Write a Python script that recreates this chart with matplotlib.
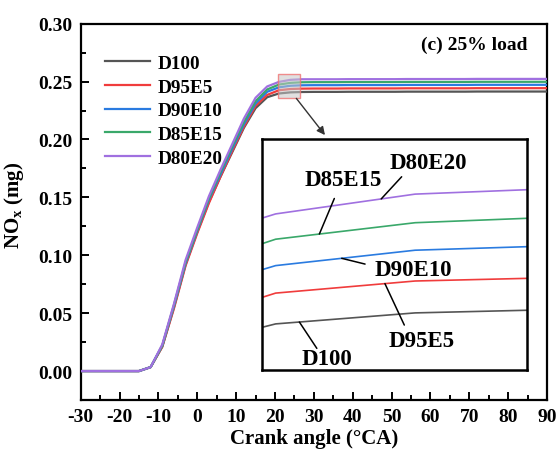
import matplotlib
matplotlib.use("Agg")
import numpy as np
import matplotlib.pyplot as plt
from matplotlib.ticker import MultipleLocator, FormatStrFormatter
from matplotlib.patches import Rectangle

plt.rcParams['font.family'] = ['Liberation Serif', 'DejaVu Serif']
plt.rcParams['font.weight'] = 'bold'
plt.rcParams['axes.unicode_minus'] = False
plt.rcParams['mathtext.fontset'] = 'custom'
plt.rcParams['mathtext.rm'] = 'Liberation Serif'
plt.rcParams['mathtext.bf'] = 'Liberation Serif:bold'

# Crank angle (°CA), sampled every 3 degrees
crank_angle = list(range(-30, 91, 3))

# Cumulative NOx (mg) per fuel blend
d100 = [0, 0, 0, 0, 0, 0, 0.0034, 0.021, 0.055, 0.092, 0.120, 0.146, 0.168,
        0.189, 0.210, 0.227, 0.2365, 0.2397, 0.2407, 0.2410,
        0.2411, 0.2411, 0.2411, 0.2412, 0.2412, 0.2412, 0.2412, 0.2412, 0.2413,
        0.2413, 0.2413, 0.2413, 0.2413, 0.2413, 0.2414, 0.2414, 0.2414, 0.2414,
        0.2414, 0.2414, 0.2414]
d95e5 = [0, 0, 0, 0, 0, 0, 0.0034, 0.021, 0.054, 0.091, 0.119, 0.145, 0.168,
         0.190, 0.211, 0.229, 0.2385, 0.2425, 0.2436, 0.2439,
         0.2440, 0.2440, 0.2440, 0.2441, 0.2441, 0.2441, 0.2441, 0.2441, 0.2442,
         0.2442, 0.2442, 0.2442, 0.2442, 0.2442, 0.2443, 0.2443, 0.2443, 0.2443,
         0.2443, 0.2443, 0.2443]
d90e10 = [0, 0, 0, 0, 0, 0, 0.0034, 0.022, 0.056, 0.093, 0.121, 0.148, 0.170,
          0.192, 0.213, 0.231, 0.2412, 0.2450, 0.2464, 0.2468,
          0.2469, 0.2469, 0.2469, 0.2470, 0.2470, 0.2470, 0.2470, 0.2470, 0.2471,
          0.2471, 0.2471, 0.2471, 0.2471, 0.2471, 0.2472, 0.2472, 0.2472, 0.2472,
          0.2472, 0.2472, 0.2472]
d85e15 = [0, 0, 0, 0, 0, 0, 0.0034, 0.022, 0.057, 0.094, 0.122, 0.149, 0.172,
          0.194, 0.215, 0.233, 0.2432, 0.2474, 0.2489, 0.2494,
          0.2495, 0.2495, 0.2495, 0.2496, 0.2496, 0.2496, 0.2496, 0.2496, 0.2497,
          0.2497, 0.2497, 0.2497, 0.2497, 0.2497, 0.2498, 0.2498, 0.2498, 0.2498,
          0.2498, 0.2498, 0.2498]
d80e20 = [0, 0, 0, 0, 0, 0, 0.0034, 0.023, 0.058, 0.096, 0.124, 0.151, 0.174,
          0.196, 0.218, 0.236, 0.2458, 0.2497, 0.2515, 0.2520,
          0.2520, 0.2520, 0.2520, 0.2521, 0.2521, 0.2521, 0.2521, 0.2521, 0.2522,
          0.2522, 0.2522, 0.2522, 0.2522, 0.2522, 0.2523, 0.2523, 0.2523, 0.2523,
          0.2523, 0.2523, 0.2523]

fuels = ['D100', 'D95E5', 'D90E10', 'D85E15', 'D80E20']
series = [d100, d95e5, d90e10, d85e15, d80e20]
colors = ['#555555', '#f03c3c', '#2a7be0', '#3aa86a', '#a070e0']

panel_title = '(c) 25% load'
x_ticks = list(range(-30, 91, 10))
y_ticks = [0.00, 0.05, 0.10, 0.15, 0.20, 0.25, 0.30]

# magnified window
zoom_x = (20.7, 26.4)
zoom_y = (0.2355, 0.2565)

fig = plt.figure(figsize=(5.58, 4.52), dpi=100)
ax = fig.add_axes([0.1446, 0.1128, 0.8356, 0.8326])

for name, vals, c in zip(fuels, series, colors):
    ax.plot(crank_angle, vals, color=c, lw=1.6, label=name, zorder=3)

ax.set_xlim(-30, 90)
ax.set_ylim(-0.025, 0.30)
ax.set_xticks(x_ticks)
ax.set_yticks(y_ticks)
ax.xaxis.set_minor_locator(MultipleLocator(5))
ax.yaxis.set_minor_locator(MultipleLocator(0.025))
ax.yaxis.set_major_formatter(FormatStrFormatter('%.2f'))
ax.tick_params(which='both', direction='in', top=False, right=False, width=1.4)
ax.tick_params(which='major', length=6, labelsize=14, pad=6)
ax.tick_params(which='minor', length=3.5)
for lab in ax.get_xticklabels() + ax.get_yticklabels():
    lab.set_fontweight('bold')
for s in ax.spines.values():
    s.set_linewidth(1.6)

ax.set_xlabel('Crank angle (°CA)', fontsize=15, fontweight='bold', labelpad=2)
ax.set_ylabel(r'NO$_{\mathrm{x}}$ (mg)', fontsize=15, fontweight='bold')
ax.yaxis.set_label_coords(-0.118, 0.52)

ax.text(0.959, 0.946, panel_title, transform=ax.transAxes, ha='right', va='center',
        fontsize=14, fontweight='bold')

leg = ax.legend(loc='upper left', bbox_to_anchor=(0.053, 0.918), frameon=False,
                prop={'size': 13.8, 'weight': 'bold'}, handlelength=2.35,
                handletextpad=0.35, labelspacing=0.33, borderaxespad=0, borderpad=0)

# highlighted window on the main curves
ax.add_patch(Rectangle((zoom_x[0], zoom_y[0]), zoom_x[1] - zoom_x[0], zoom_y[1] - zoom_y[0],
                       facecolor=(0.78, 0.78, 0.78, 0.55), edgecolor=(0.94, 0.45, 0.45, 0.8),
                       lw=1.0, zorder=4))
ax.annotate('', xy=(0.5824, 0.699), xycoords='figure fraction',
            xytext=(25.5, zoom_y[0]), textcoords='data',
            arrowprops=dict(arrowstyle='-|>', color='#333333', lw=1.0,
                            mutation_scale=12, shrinkA=0, shrinkB=0), zorder=5)

# inset with magnified curves
axin = fig.add_axes([0.469, 0.179, 0.475, 0.511])
for vals, c in zip(series, colors):
    axin.plot(crank_angle, vals, color=c, lw=1.2)
axin.set_xlim(*zoom_x)
axin.set_ylim(*zoom_y)
axin.set_xticks([])
axin.set_yticks([])
for s in axin.spines.values():
    s.set_linewidth(1.8)

# labels with leader lines: (text pos, line start, angle on curve)
callouts = [
    ('D80E20', (0.628, 0.900), (0.528, 0.837), 23.27, d80e20),
    ('D85E15', (0.306, 0.824), (0.274, 0.743), 21.94, d85e15),
    ('D90E10', (0.571, 0.437), (0.390, 0.459), 22.42, d90e10),
    ('D95E5', (0.604, 0.127), (0.538, 0.195), 23.35, d95e5),
    ('D100', (0.245, 0.051), (0.208, 0.094), 21.51, d100),
]
for name, tpos, lstart, xa, vals in callouts:
    ya = float(np.interp(xa, crank_angle, vals))
    axin.annotate('', xy=(xa, ya), xycoords='data', xytext=lstart,
                  textcoords='axes fraction',
                  arrowprops=dict(arrowstyle='-', color='black', lw=1.1,
                                  shrinkA=0, shrinkB=0))
    axin.text(tpos[0], tpos[1], name, transform=axin.transAxes, ha='center',
              va='center', fontsize=16.5, fontweight='bold')

fig.savefig('out.png', dpi=100)
